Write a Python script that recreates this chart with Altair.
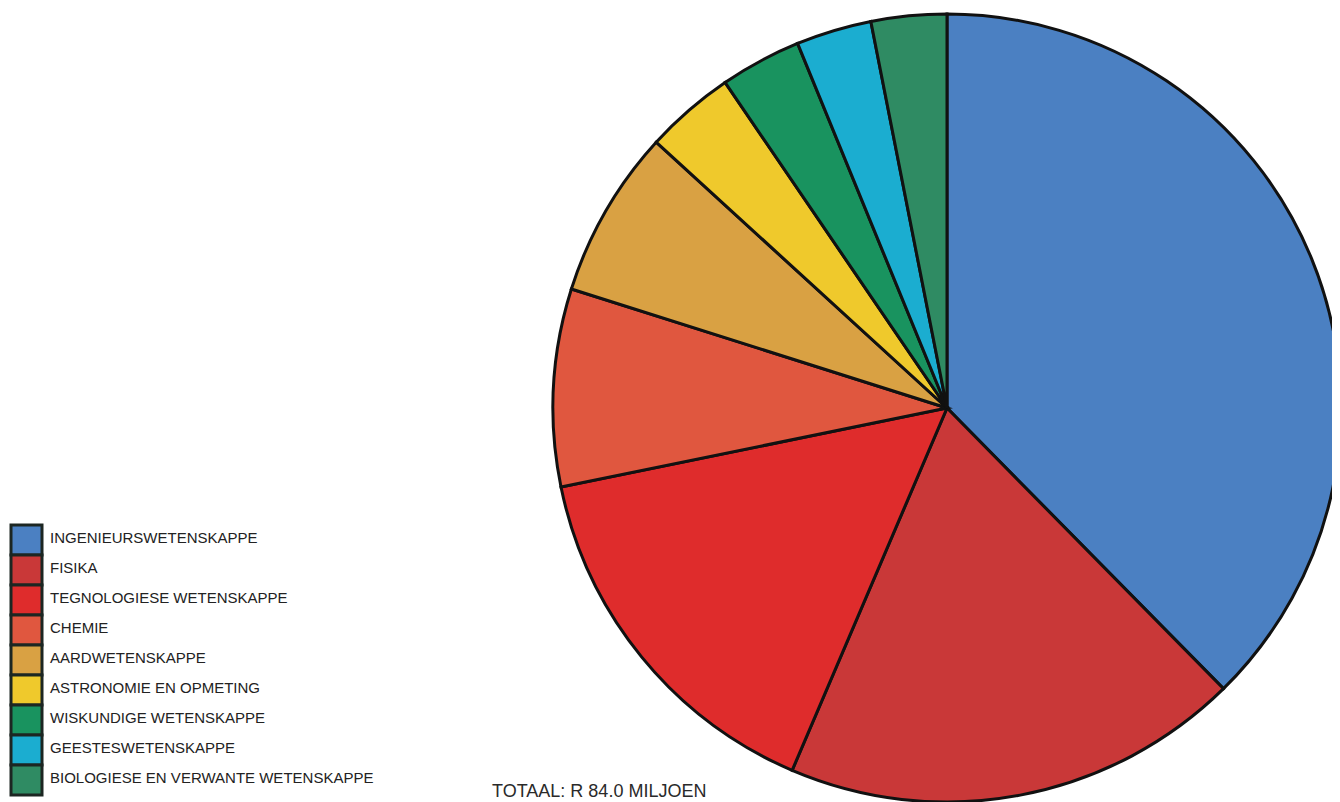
import altair as alt
import pandas as pd

categories = [
    "INGENIEURSWETENSKAPPE",
    "FISIKA",
    "TEGNOLOGIESE WETENSKAPPE",
    "CHEMIE",
    "AARDWETENSKAPPE",
    "ASTRONOMIE EN OPMETING",
    "WISKUNDIGE WETENSKAPPE",
    "GEESTESWETENSKAPPE",
    "BIOLOGIESE EN VERWANTE WETENSKAPPE",
]
values = [31.6, 15.8, 12.9, 6.8, 5.8, 3.1, 2.8, 2.6, 2.6]
colors = ["#4b80c2", "#c93838", "#df2c2c", "#e0573f", "#d9a143",
          "#efc92c", "#19935f", "#1badd0", "#2f8b63"]
total_label = ["TOTAAL: R 84.0 MILJOEN"]

df = pd.DataFrame({"cat": categories, "val": values, "order": list(range(len(categories)))})

color = alt.Color("cat:N", scale=alt.Scale(domain=categories, range=colors), legend=None)

pie = alt.Chart(df).mark_arc(
    radius=394, stroke="#111", strokeWidth=3
).encode(
    theta=alt.Theta("val:Q", stack=True),
    order=alt.Order("order:Q"),
    color=color,
    x=alt.value(939),
    y=alt.value(400),
)

yleg = alt.Y("cat:N", sort=categories,
             scale=alt.Scale(domain=categories, range=[517, 787], paddingInner=0, paddingOuter=0),
             axis=None)

leg_rect = alt.Chart(df).mark_rect(stroke="#1c2622", strokeWidth=3).encode(
    y=yleg,
    x=alt.value(3),
    x2=alt.value(34),
    color=color,
)

leg_text = alt.Chart(df).mark_text(
    align="left", baseline="middle", font="Liberation Sans",
    fontSize=15, color="#222", dy=-2
).encode(
    y=yleg,
    x=alt.value(42),
    text="cat:N",
)

total = alt.Chart(pd.DataFrame({"t": total_label})).mark_text(
    align="left", baseline="alphabetic", font="Liberation Sans",
    fontSize=18, color="#2a2a2a"
).encode(
    text="t:N",
    x=alt.value(484),
    y=alt.value(789),
)

chart = alt.layer(pie, leg_rect, leg_text, total).properties(
    width=1324, height=794, padding=0, autosize=alt.AutoSizeParams(type="none")
).configure_view(stroke=None)

chart.save("out.html", embed_options={"renderer": "svg", "actions": False})
